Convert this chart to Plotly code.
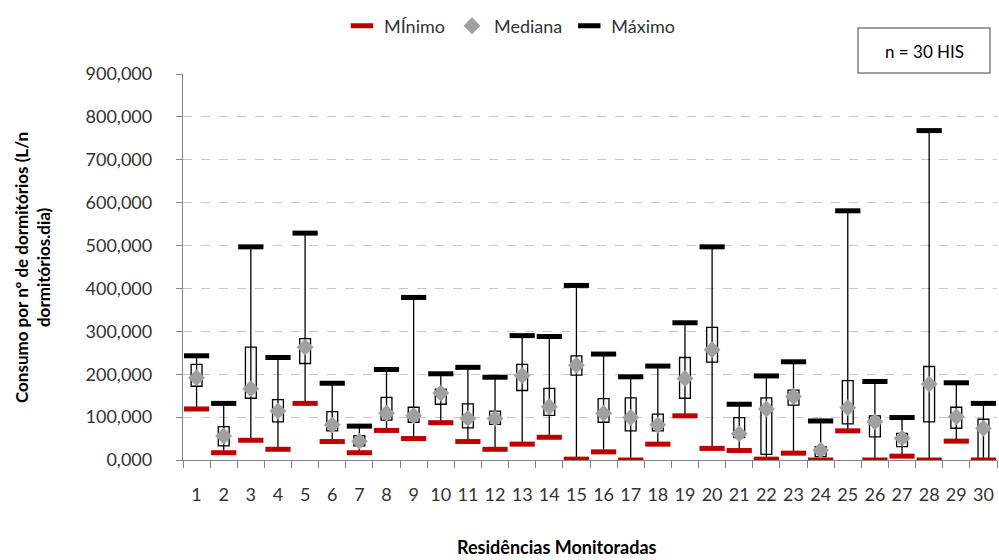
import plotly.graph_objects as go

categories = [str(i) for i in range(1, 31)]
minimo = [119, 17, 46, 25, 132, 43, 17, 69, 50, 87, 43, 25, 37, 53, 2, 19, 0, 37, 103, 27,
          22, 2, 16, 0, 68, 0, 9, 0, 44, 0]
q1 = [172, 33, 144, 89, 225, 68, 33, 93, 88, 130, 75, 83, 162, 104, 198, 88, 68, 68, 144, 228,
      52, 13, 128, 8, 84, 54, 31, 89, 74, 2]
mediana = [192, 56, 166, 114, 263, 82, 44, 109, 103, 156, 97, 97, 197, 124, 221, 109, 99, 82, 190, 257,
           61, 119, 148, 23, 122, 89, 51, 177, 101, 74]
q3 = [223, 78, 263, 141, 283, 113, 57, 146, 123, 165, 131, 114, 223, 167, 243, 143, 145, 107, 239, 309,
      99, 145, 163, 31, 185, 103, 62, 218, 123, 95]
maximo = [243, 132, 497, 239, 529, 179, 79, 211, 379, 201, 216, 193, 290, 288, 407, 247, 194, 219, 320, 497,
          130, 196, 229, 91, 581, 183, 99, 768, 180, 132]
y_tickvals = [0, 100, 200, 300, 400, 500, 600, 700, 800, 900]
y_ticktext = ["0,000", "100,000", "200,000", "300,000", "400,000", "500,000",
              "600,000", "700,000", "800,000", "900,000"]

FONT = "Lato"
TXT = "#333333"

# whiskers
wx, wy = [], []
for c, lo, hi in zip(categories, minimo, maximo):
    wx += [c, c, None]
    wy += [lo, hi, None]

fig = go.Figure()
fig.add_trace(go.Scatter(x=wx, y=wy, mode="lines", line=dict(color="black", width=1.3),
                         showlegend=False, hoverinfo="skip"))
fig.add_trace(go.Bar(x=categories, y=[b - a for a, b in zip(q1, q3)], base=q1, width=0.4,
                     marker=dict(color="#f7f7f7", line=dict(color="black", width=1.3)),
                     showlegend=False))
fig.add_trace(go.Scatter(x=categories, y=minimo, mode="markers", name="MÍnimo",
                         marker=dict(symbol="line-ew", size=18,
                                     line=dict(color="#c00000", width=5))))
fig.add_trace(go.Scatter(x=categories, y=mediana, mode="markers", name="Mediana",
                         marker=dict(symbol="diamond", size=13, color="#a0a0a0",
                                     line=dict(width=0))))
fig.add_trace(go.Scatter(x=categories, y=maximo, mode="markers", name="Máximo",
                         marker=dict(symbol="line-ew", size=18,
                                     line=dict(color="black", width=5))))

L, R, T, B = 183, 2, 74, 100
W, H = 999, 560
pw, ph = W - L - R, H - T - B

def px(x):
    return (x - L) / pw

def py(y):
    return (H - B - y) / ph

fig.update_layout(
    width=W, height=H,
    margin=dict(l=L, r=R, t=T, b=B, autoexpand=False),
    plot_bgcolor="white", paper_bgcolor="white",
    font=dict(family=FONT, size=18, color=TXT),
    barmode="overlay",
    showlegend=True,
    legend=dict(orientation="h", x=px(510), xanchor="center", y=py(26), yanchor="middle",
                font=dict(family=FONT, size=18, color=TXT), itemwidth=34,
                bgcolor="rgba(0,0,0,0)"),
    xaxis=dict(type="category", categoryorder="array", categoryarray=categories,
               range=[-0.5, 29.5], tickson="boundaries", ticks="outside", ticklen=7,
               tickcolor="#868686", showline=True, linecolor="#868686", linewidth=1.3,
               showgrid=False, tickangle=0, automargin=False, ticklabelstandoff=18,
               tickfont=dict(family=FONT, size=18, color=TXT)),
    yaxis=dict(range=[0, 900], tickvals=y_tickvals, ticktext=y_ticktext,
               ticks="outside", ticklen=6, tickcolor="#868686", ticklabelstandoff=20,
               showline=True, linecolor="#868686", linewidth=1.3, automargin=False,
               showgrid=True, gridcolor="#c8c8c8", griddash="dash", gridwidth=1,
               zeroline=False, tickfont=dict(family=FONT, size=18, color=TXT)),
)

fig.add_annotation(text="Consumo por nº de dormitórios (L/n<br>dormitórios.dia)",
                   xref="paper", yref="paper", x=px(32), y=py(268), xanchor="center",
                   yanchor="middle", textangle=-90, showarrow=False,
                   font=dict(family=FONT, size=17, color="black", weight="bold"))
fig.add_annotation(text="Residências Monitoradas", xref="paper", yref="paper",
                   x=px(557), y=py(547), xanchor="center", yanchor="middle", showarrow=False,
                   font=dict(family=FONT, size=18, color="black", weight="bold"))

fig.add_shape(type="rect", xref="paper", yref="paper", x0=px(858), x1=px(990),
              y0=py(73), y1=py(28), line=dict(color="#7f7f7f", width=1.5),
              fillcolor="white")
fig.add_annotation(text="n = 30 HIS", xref="paper", yref="paper", x=px(924), y=py(51),
                   xanchor="center", yanchor="middle", showarrow=False,
                   font=dict(family=FONT, size=17, color="black"))

fig.write_html("out.html", config={"displayModeBar": False},
               post_script="document.body.style.margin='0';")
